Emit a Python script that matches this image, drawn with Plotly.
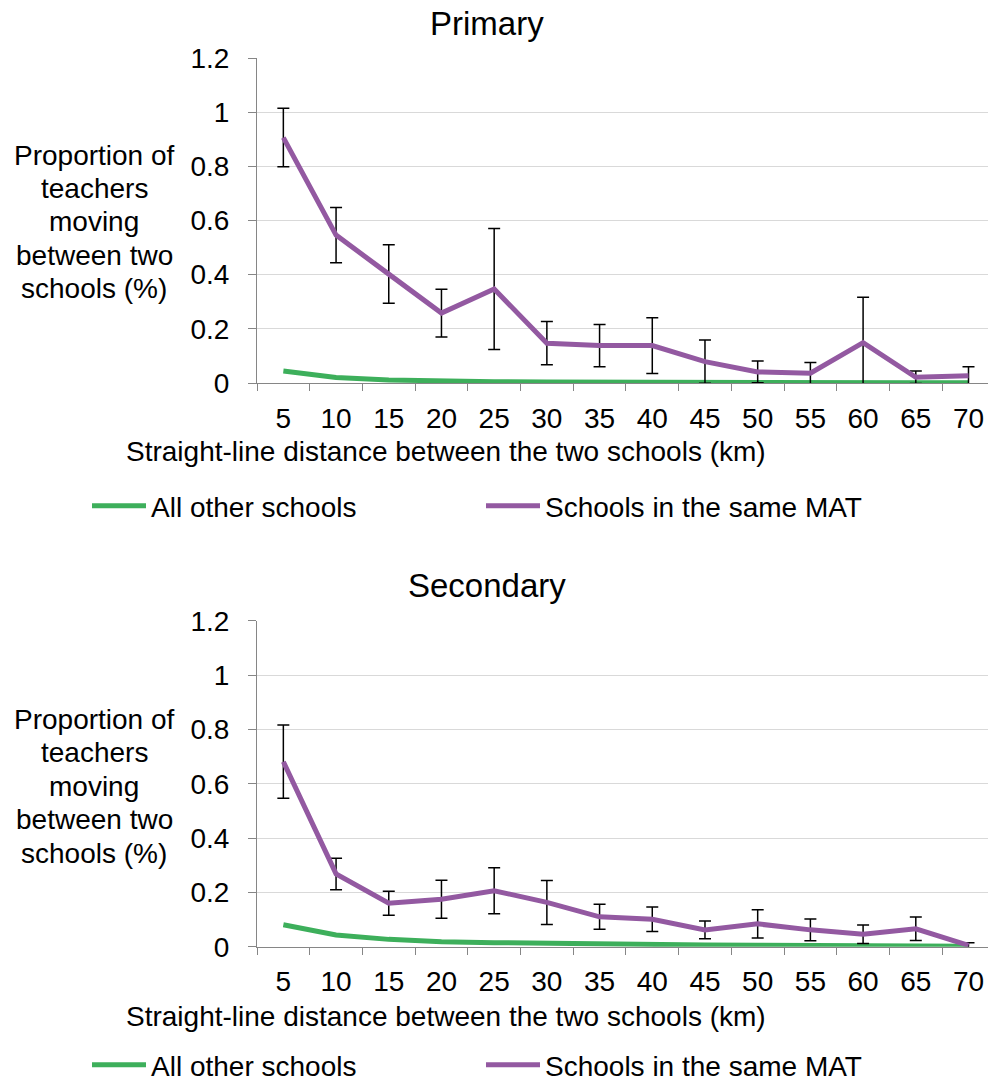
import plotly.graph_objects as go

distances = ["5", "10", "15", "20", "25", "30", "35", "40", "45", "50", "55", "60", "65", "70"]

primary_other = [0.044, 0.020, 0.011, 0.007, 0.005, 0.004, 0.003, 0.003, 0.002, 0.002, 0.002, 0.001, 0.001, 0.001]
primary_mat = [0.906, 0.546, 0.402, 0.258, 0.347, 0.147, 0.138, 0.138, 0.079, 0.041, 0.036, 0.149, 0.021, 0.027]
primary_mat_err = [0.108, 0.102, 0.108, 0.088, 0.223, 0.080, 0.078, 0.103, 0.080, 0.040, 0.040, 0.168, 0.023, 0.033]

secondary_other = [0.081, 0.043, 0.027, 0.018, 0.015, 0.012, 0.009, 0.007, 0.006, 0.005, 0.004, 0.003, 0.002, 0.002]
secondary_mat = [0.681, 0.268, 0.160, 0.175, 0.206, 0.163, 0.110, 0.101, 0.062, 0.084, 0.062, 0.046, 0.066, 0.005]
secondary_mat_err = [0.135, 0.058, 0.044, 0.070, 0.085, 0.081, 0.046, 0.045, 0.033, 0.052, 0.040, 0.034, 0.043, 0.010]

panel_titles = ["Primary", "Secondary"]
series_names = ["All other schools", "Schools in the same MAT"]
y_title_lines = ["Proportion of", "teachers", "moving", "between two", "schools (%)"]
x_title = "Straight-line distance between the two schools (km)"
y_ticks = [0, 0.2, 0.4, 0.6, 0.8, 1, 1.2]
y_ticktext = ["0", "0.2", "0.4", "0.6", "0.8", "1", "1.2"]

GREEN = "#3DAF5B"
PURPLE = "#9359A1"
FONT = "Liberation Sans, Arial, sans-serif"
FS = 28

W, H = 988, 1082

fig = go.Figure()

panels = [
    (primary_other, primary_mat, primary_mat_err, "x", "y", "legend"),
    (secondary_other, secondary_mat, secondary_mat_err, "x2", "y2", "legend2"),
]
for other, mat, err, xa, ya, lg in panels:
    fig.add_trace(go.Scatter(
        x=distances, y=other, mode="lines", name=series_names[0],
        line=dict(color=GREEN, width=5), xaxis=xa, yaxis=ya, legend=lg,
    ))
    fig.add_trace(go.Scatter(
        x=distances, y=mat, mode="lines", name=series_names[1],
        line=dict(color=PURPLE, width=5), xaxis=xa, yaxis=ya, legend=lg,
        error_y=dict(type="data", array=err, symmetric=True, color="#000000", thickness=1.5, width=6),
    ))

def px_y(p):
    return 1 - p / H

def px_x(p):
    return p / W

xcommon = dict(
    type="category", range=[-0.5, 13.37], tickson="boundaries", ticks="outside", ticklen=7,
    tickcolor="#868686", showline=True, linecolor="#868686", linewidth=1, showgrid=False,
    tickfont=dict(family=FONT, size=FS, color="#000000"), ticklabelstandoff=10,
    domain=[px_x(257), 1], zeroline=False, automargin=False,
)
ycommon = dict(
    range=[0, 1.2], tickvals=y_ticks, ticktext=y_ticktext, ticks="outside", ticklen=8,
    tickcolor="#868686", showline=True, linecolor="#868686", linewidth=1, showgrid=True,
    gridcolor="#D9D9D9", gridwidth=1, zeroline=False, automargin=False,
    tickfont=dict(family=FONT, size=FS, color="#000000"), ticklabelstandoff=13,
)

legend_common = dict(
    orientation="h", xanchor="left", yanchor="middle", xref="container", yref="container",
    itemwidth=54, entrywidth=325, entrywidthmode="pixels",
    font=dict(family=FONT, size=FS), bgcolor="rgba(0,0,0,0)",
)

fig.update_layout(
    width=W, height=H, margin=dict(l=0, r=0, t=0, b=0, autoexpand=False),
    paper_bgcolor="white", plot_bgcolor="white",
    font=dict(family=FONT, size=FS, color="#000000"),
    xaxis=dict(xcommon, anchor="y"),
    yaxis=dict(ycommon, domain=[px_y(383), px_y(58)], anchor="x"),
    xaxis2=dict(xcommon, anchor="y2"),
    yaxis2=dict(ycommon, domain=[px_y(946.7), px_y(620.7)], anchor="x2"),
    legend=dict(legend_common, x=px_x(87), y=px_y(506)),
    legend2=dict(legend_common, x=px_x(87), y=px_y(1065)),
    showlegend=True,
)

annotations = []
for title, ty, xty, yty in [(panel_titles[0], 23, 452, 222), (panel_titles[1], 585, 1016, 786)]:
    annotations.append(dict(text=title, x=px_x(487), y=px_y(ty), xref="paper", yref="paper",
                            xanchor="center", yanchor="middle", showarrow=False, borderpad=0,
                            font=dict(family=FONT, size=33, color="#000000")))
    annotations.append(dict(text=x_title, x=px_x(446), y=px_y(xty), xref="paper", yref="paper",
                            xanchor="center", yanchor="middle", showarrow=False,
                            font=dict(family=FONT, size=FS, color="#000000")))
    for i, line in enumerate(y_title_lines):
        annotations.append(dict(text=line, x=px_x(94), y=px_y(yty + (i - 2) * 33.5),
                                xref="paper", yref="paper",
                                xanchor="center", yanchor="middle", showarrow=False,
                                font=dict(family=FONT, size=FS, color="#000000")))
fig.update_layout(annotations=annotations)

# Remove the default page margin so the figure fills the window exactly.
fig.write_html("out.html", config={"displayModeBar": False},
               post_script="document.body.style.margin='0';")
